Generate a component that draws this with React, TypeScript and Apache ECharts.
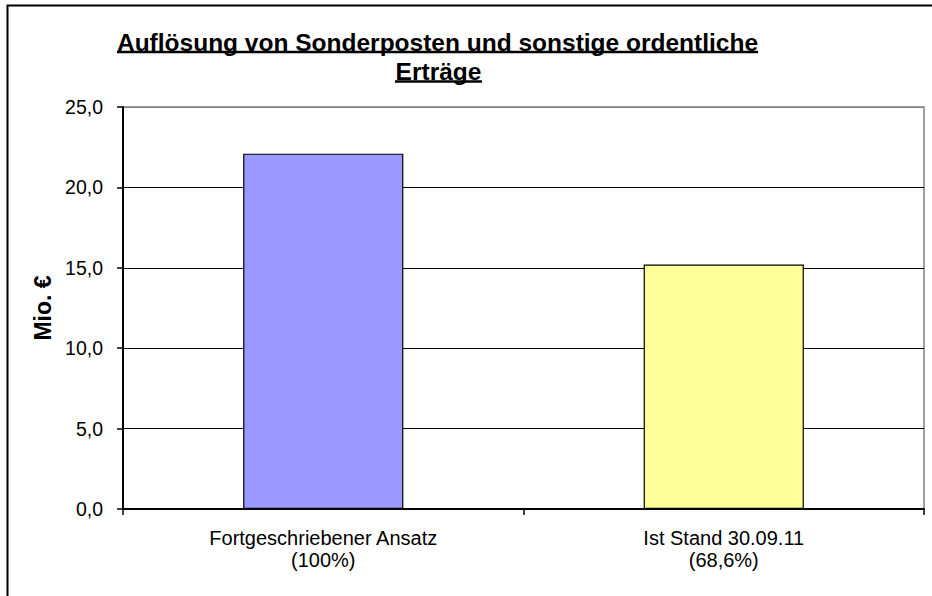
import React, { useEffect, useRef } from "react";
import * as echarts from "echarts";

const categories = ["Fortgeschriebener Ansatz\n(100%)", "Ist Stand 30.09.11\n(68,6%)"];
const values = [22.1, 15.2];
const barColors = ["#9999FF", "#FFFF99"];
const titleLines = ["Auflösung von Sonderposten und sonstige ordentliche", "Erträge"];
const yAxisName = "Mio. €";

export default function App() {
  const ref = useRef<HTMLDivElement>(null);
  useEffect(() => {
    if (!ref.current) return;
    const chart = echarts.init(ref.current, null, { renderer: "svg" });
    const font = "Liberation Sans, Arial, sans-serif";
    chart.setOption({
      animation: false,
      backgroundColor: "#ffffff",
      textStyle: { fontFamily: font },
      grid: {
        left: 123,
        top: 107,
        right: 8,
        bottom: 87,
        show: true,
        borderColor: "#808080",
        borderWidth: 1.5,
        backgroundColor: "transparent",
      },
      xAxis: {
        type: "category",
        data: categories,
        axisLine: { lineStyle: { color: "#000", width: 2 } },
        axisTick: { show: true, length: 6, lineStyle: { color: "#000", width: 1.5 } },
        axisLabel: { color: "#000", fontSize: 20, lineHeight: 22, margin: 18, fontFamily: font },
      },
      yAxis: {
        type: "value",
        min: 0,
        max: 25,
        interval: 5,
        name: yAxisName,
        nameLocation: "middle",
        nameRotate: 90,
        nameGap: 62,
        nameTextStyle: { color: "#000", fontSize: 23, fontWeight: "bold", fontFamily: font },
        axisLine: { show: true, lineStyle: { color: "#000", width: 2 } },
        axisTick: { show: true, length: 6, lineStyle: { color: "#000", width: 1.5 } },
        axisLabel: {
          color: "#000",
          fontSize: 19.5,
          margin: 20,
          fontFamily: font,
          formatter: (v: number) => v.toFixed(1).replace(".", ","),
        },
        splitLine: {
          show: true,
          lineStyle: { color: ["#000", "#000", "#000", "#000", "#000", "#808080"], width: 1.2 },
        },
      },
      series: [
        {
          type: "bar",
          barWidth: "40%",
          data: values.map((v, i) => ({
            value: v,
            itemStyle: { color: barColors[i], borderColor: "#000", borderWidth: 1.2 },
          })),
        },
      ],
      graphic: [
        {
          type: "rect",
          shape: { x: 7.5, y: 5.5, width: 1200, height: 1200 },
          style: { fill: "none", stroke: "#000", lineWidth: 2 },
          silent: true,
        },
        {
          type: "text",
          x: 437.5,
          y: 42,
          style: {
            text: titleLines[0],
            fill: "#000",
            font: "bold 24.5px " + font,
            align: "center",
            verticalAlign: "middle",
          },
        },
        {
          type: "text",
          x: 438.5,
          y: 71,
          style: {
            text: titleLines[1],
            fill: "#000",
            font: "bold 24.5px " + font,
            align: "center",
            verticalAlign: "middle",
          },
        },
        {
          type: "line",
          shape: { x1: 117, y1: 52, x2: 758, y2: 52 },
          style: { stroke: "#000", lineWidth: 2.5 },
        },
        {
          type: "line",
          shape: { x1: 395, y1: 81.5, x2: 482, y2: 81.5 },
          style: { stroke: "#000", lineWidth: 2.5 },
        },
      ],
    });
    return () => chart.dispose();
  }, []);
  return (
    <div
      ref={ref}
      style={{ position: "fixed", left: 0, top: 0, width: 932, height: 596 }}
    />
  );
}
